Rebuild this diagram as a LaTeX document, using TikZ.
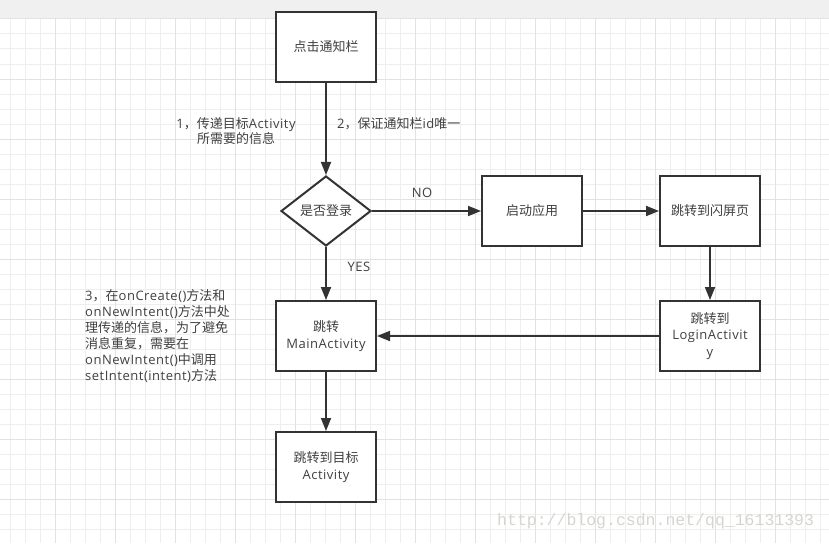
\documentclass[tikz,border=0pt]{standalone}
\usepackage{fontspec}
\setmainfont{Open Sans}[LetterSpace=4]
\newfontfamily\cjkfont{Noto Sans CJK SC}
\newfontfamily\wmfont{Liberation Mono}
\newcommand\zhtxt[1]{{\cjkfont #1}}
\usetikzlibrary{arrows.meta,shapes.geometric}
\definecolor{ink}{HTML}{333333}
\definecolor{txt}{HTML}{404040}
\definecolor{gminor}{HTML}{EEEEEE}
\definecolor{gmajor}{HTML}{E2E2E2}
\definecolor{band}{HTML}{F0F0F0}
\definecolor{wmcol}{HTML}{D6D6D0}
\tikzset{
  flowbox/.style={draw=ink, line width=2pt, fill=white, minimum width=100pt, minimum height=70pt,
    inner sep=0pt, align=center, text=txt, font=\fontsize{13}{16.5}\selectfont},
  decbox/.style={diamond, draw=ink, line width=2pt, fill=white, minimum width=90pt, minimum height=70pt,
    inner sep=0pt, align=center, text=txt, font=\fontsize{13}{16}\selectfont},
  arr/.style={draw=ink, line width=1.8pt, -{Triangle[length=13pt,width=10pt]}},
  lbl/.style={text=txt, inner sep=0pt, font=\fontsize{13}{15}\selectfont},
  wm/.style={text=wmcol, inner sep=0pt, font=\wmfont\fontsize{16.5}{18}\selectfont}
}
\begin{document}
\begin{tikzpicture}[x=1pt,y=-1pt]
\useasboundingbox (0,0) rectangle (829,543);
\fill[white] (0,0) rectangle (829,543);
\fill[band] (0,0) rectangle (829,19);
\foreach \x in {10,25,...,825} \draw[gminor, line width=1pt] (\x,19) -- (\x,543);
\foreach \y in {19,34,...,543} \draw[gminor, line width=1pt] (0,\y) -- (829,\y);
\foreach \x in {55,115,...,775} \draw[gmajor, line width=1pt] (\x,19) -- (\x,543);
\foreach \y in {19,79,...,499} \draw[gmajor, line width=1pt] (0,\y) -- (829,\y);

\node[flowbox] (click) at (326,47) {\zhtxt{点击通知栏}};
\node[decbox] (dec) at (326,211) {\zhtxt{是否登录}};
\node[flowbox] (start) at (532,211) {\zhtxt{启动应用}};
\node[flowbox] (splash) at (710,211) {\zhtxt{跳转到闪屏页}};
\node[flowbox] (login) at (710,336) {\zhtxt{跳转到}\\LoginActivit\\y};
\node[flowbox] (main) at (326,336) {\zhtxt{跳转}\\MainActivity};
\node[flowbox] (target) at (326,467) {\zhtxt{跳转到目标}\\Activity};

\draw[arr] (click) -- (dec);
\draw[arr] (dec) -- (start);
\draw[arr] (start) -- (splash);
\draw[arr] (splash) -- (login);
\draw[arr] (login) -- (main);
\draw[arr] (dec) -- (main);
\draw[arr] (main) -- (target);

\node[lbl, align=center] (l1) at (236,131) {1\zhtxt{，传递目标}Activity\\\zhtxt{所需要的信息}};
\node[lbl, anchor=west] (l2) at (337,124) {2\zhtxt{，保证通知栏}id\zhtxt{唯一}};
\node[lbl] (lno) at (422,193) {NO};
\node[lbl] (lyes) at (359,267) {YES};
\node[lbl, anchor=north west, align=left, font=\fontsize{13}{16}\selectfont] (l3) at (85,289)
  {3\zhtxt{，在}onCreate()\zhtxt{方法和}\\onNewIntent()\zhtxt{方法中处}\\\zhtxt{理传递的信息，为了避免}\\\zhtxt{消息重复，需要在}\\onNewIntent()\zhtxt{中调用}\\setIntent(intent)\zhtxt{方法}};
\node[wm, anchor=west] (wmark) at (497,521) {http://blog.csdn.net/qq\_16131393};
\end{tikzpicture}
\end{document}
